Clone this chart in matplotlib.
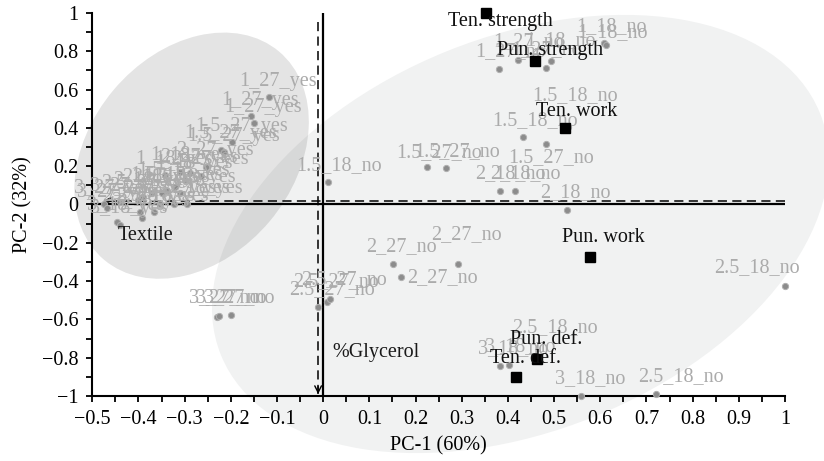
import numpy as np
import matplotlib as mpl; mpl.use('Agg')
import matplotlib.pyplot as plt
from matplotlib.patches import Ellipse
from matplotlib.ticker import MultipleLocator, FuncFormatter
from matplotlib.transforms import ScaledTranslation

mpl.rcParams.update({'font.family': ['Liberation Serif', 'DejaVu Serif'], 'axes.unicode_minus': True})

# observations without textile (3 replicates each)
no_labels = ['1_18_no', '1_18_no', '1_18_no', '1_27_no', '1_27_no', '1_27_no',
             '1.5_18_no', '1.5_18_no', '1.5_18_no', '1.5_27_no', '1.5_27_no', '1.5_27_no',
             '2_18_no', '2_18_no', '2_18_no', '2_27_no', '2_27_no', '2_27_no',
             '2.5_27_no', '2.5_27_no', '2.5_27_no', '3_27_no', '3_27_no', '3_27_no',
             '2.5_18_no', '2.5_18_no', '2.5_18_no', '3_18_no', '3_18_no', '3_18_no']
no_pc1 = [0.608, 0.612, 0.494, 0.381, 0.422, 0.483,
          0.011, 0.433, 0.530, 0.225, 0.266, 0.483,
          0.383, 0.416, 0.528, 0.152, 0.292, 0.169,
          -0.011, 0.008, 0.015, -0.230, -0.226, -0.200,
          1.000, 0.720, 0.460, 0.383, 0.403, 0.558]
no_pc2 = [0.843, 0.835, 0.749, 0.707, 0.754, 0.712,
          0.115, 0.351, 0.405, 0.194, 0.188, 0.314,
          0.068, 0.068, -0.031, -0.310, -0.310, -0.377,
          -0.534, -0.507, -0.492, -0.585, -0.580, -0.576,
          -0.424, -0.990, -0.800, -0.843, -0.838, -1.000]
# label offsets (pixels) for the "no" labels
no_dx = [7, 7, 9, 11, 10, 0, 11, 12, 7, 12, 11, 5, 10, 10, 8, 8, 8, 41,
         14, 9, 14, 7, 12, 8, -28, 25, 19, 13, 11, 9]
no_dy = [16, 12, 20, 18, 19, 19, 17, 17, 31, 15, 17, -13, 18, 18, 18, 17, 29, -1,
         17, 20, 19, 19, 18, 17, 18, 17, 30, 17, 18, 17]

# observations with textile
yes_labels = ['1_27_yes'] * 3 + ['1.5_27_yes'] * 3 + ['2_27_yes'] * 3 + ['1_18_yes'] * 3 + \
             ['1.5_18_yes'] * 3 + ['2_18_yes'] * 3 + ['2.5_27_yes'] * 3 + ['2.5_18_yes'] * 3 + \
             ['3_27_yes'] * 3 + ['3_18_yes'] * 3
yes_pc1 = [-0.117, -0.156, -0.149, -0.197, -0.221, -0.214, -0.254, -0.288, -0.265,
           -0.343, -0.310, -0.300, -0.321, -0.338, -0.310, -0.349, -0.371, -0.390,
           -0.400, -0.353, -0.323, -0.295, -0.367, -0.397, -0.440, -0.475, -0.468,
           -0.393, -0.447, -0.440]
yes_pc2 = [0.560, 0.461, 0.424, 0.325, 0.285, 0.274, 0.196, 0.164, 0.150,
           0.154, 0.170, 0.130, 0.092, 0.070, 0.060, 0.060, 0.060, 0.040,
           0.024, 0.000, 0.000, 0.000, -0.040, -0.040, 0.013, 0.000, -0.020,
           -0.070, -0.090, -0.107]

# variable loadings (squares)
var_names = ['Ten. strength', 'Pun. strength', 'Ten. work', 'Pun. work', 'Pun. def.', 'Ten. def.']
var_pc1 = [0.352, 0.459, 0.524, 0.578, 0.463, 0.418]
var_pc2 = [1.000, 0.750, 0.398, -0.272, -0.806, -0.900]
var_dx = [15, 15, 11, 13, 9, 9]
var_dy = [-8, 10, 17, 19, 19, 18]

# supplementary factors drawn as dashed vectors
sup_names = ['Textile', '%Glycerol']
sup_start = [(1.0, 0.018), (-0.011, 0.955)]
sup_tip = [(-0.477, 0.018), (-0.011, -0.99)]
sup_dx = [43, 58]
sup_dy = [-34, 42]

fig = plt.figure(figsize=(8.24, 4.61), dpi=100)
ax = fig.add_axes([0.112, 0.141, 0.8407, 0.8308])
ax.set_xlim(-0.5, 1.0)
ax.set_ylim(-1.0, 1.0)

# group ellipses (sizes in inches, centred in data coords)
def ell(cx, cy, w, h, ang, **kw):
    tr = fig.dpi_scale_trans + ScaledTranslation(cx, cy, ax.transData)
    e = Ellipse((0, 0), w, h, angle=ang, transform=tr, clip_on=False, lw=0, **kw)
    ax.add_patch(e)

ell(0.427, -0.154, 6.46, 3.94, 22, color='#f1f2f2', zorder=0)
ell(-0.285, 0.255, 2.72, 2.04, 50, color='black', alpha=0.105, zorder=0.1)

ax.axhline(0, color='black', lw=1.6, zorder=2)
ax.axvline(0, color='black', lw=1.6, zorder=2)

for (x0, y0), (x1, y1) in zip(sup_start, sup_tip):
    ax.plot([x0, x1], [y0, y1], color='black', lw=1.1, ls=(0, (6, 3.5)), zorder=2.2)
    ax.annotate('', xy=(x1, y1), xytext=(x1 + (x0 - x1) * 0.02, y1 + (y0 - y1) * 0.02),
                arrowprops=dict(arrowstyle='->', color='black', lw=1.0, mutation_scale=12,
                                shrinkA=0, shrinkB=0), zorder=2.3)
for n, (x1, y1), dx, dy in zip(sup_names, sup_tip, sup_dx, sup_dy):
    ax.annotate(n, (x1, y1), xytext=(dx, dy), textcoords='offset pixels', ha='center',
                va='center', fontsize=14.5, color='#1a1a1a', zorder=5)

GR = '#ababab'
ax.plot(no_pc1, no_pc2, 'o', ms=4.5, mfc='#8c8c8c', mec='#b0b0b0', mew=0.7, zorder=3, clip_on=False)
ax.plot(yes_pc1, yes_pc2, 'o', ms=4.5, mfc='#8c8c8c', mec='#b0b0b0', mew=0.7, zorder=3, clip_on=False)
for n, x, y, dx, dy in zip(no_labels, no_pc1, no_pc2, no_dx, no_dy):
    ax.annotate(n, (x, y), xytext=(dx, dy), textcoords='offset pixels', ha='center',
                va='center', fontsize=14.5, color=GR, zorder=3.5, annotation_clip=False)
for n, x, y in zip(yes_labels, yes_pc1, yes_pc2):
    ax.annotate(n, (x, y), xytext=(9, 16), textcoords='offset pixels', ha='center',
                va='center', fontsize=14.5, color=GR, zorder=3.5, annotation_clip=False)

ax.plot(var_pc1, var_pc2, 's', ms=7, color='black', zorder=4, clip_on=False)
for n, x, y, dx, dy in zip(var_names, var_pc1, var_pc2, var_dx, var_dy):
    ax.annotate(n, (x, y), xytext=(dx, dy), textcoords='offset pixels', ha='center',
                va='center', fontsize=14.5, color='#111111', zorder=5, annotation_clip=False)

for s in ('top', 'right'):
    ax.spines[s].set_visible(False)
for s in ('left', 'bottom'):
    ax.spines[s].set_linewidth(1.5)
ax.patch.set_visible(False)

fmt = FuncFormatter(lambda v, p: f'{round(v, 2) + 0:g}'.replace('-', '\u2212'))
ax.xaxis.set_major_locator(MultipleLocator(0.1))
ax.xaxis.set_minor_locator(MultipleLocator(0.05))
ax.yaxis.set_major_locator(MultipleLocator(0.2))
ax.yaxis.set_minor_locator(MultipleLocator(0.1))
ax.xaxis.set_major_formatter(fmt)
ax.yaxis.set_major_formatter(fmt)
ax.tick_params(which='both', direction='out', length=4, width=1.3, labelsize=14.5, pad=6)
ax.set_xlabel('PC-1 (60%)', fontsize=14.5, labelpad=5)
ax.set_ylabel('PC-2 (32%)', fontsize=14.5, labelpad=7)

fig.savefig('out.png', dpi=100)
